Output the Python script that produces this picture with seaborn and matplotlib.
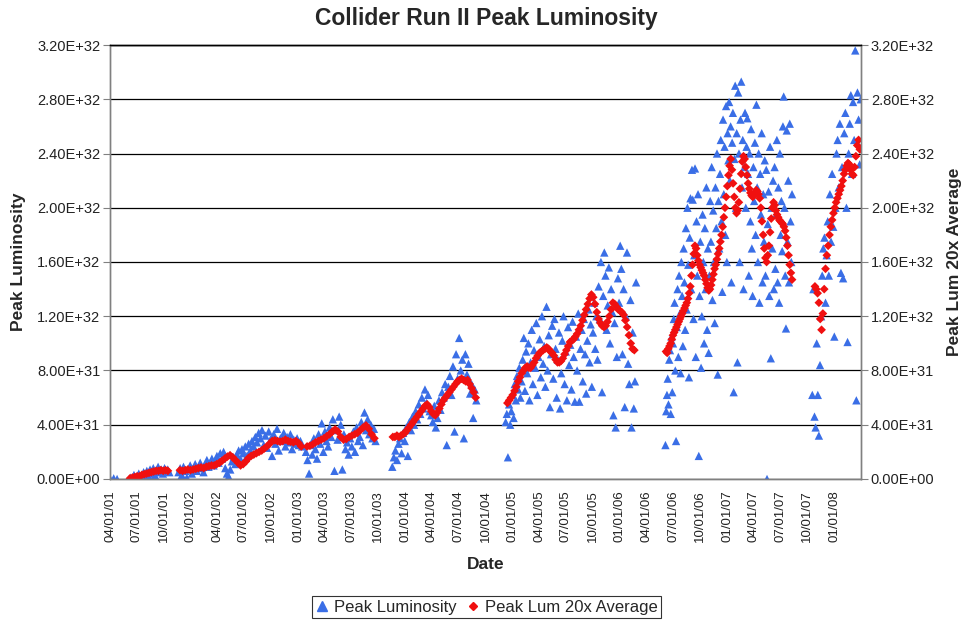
# Collider Run II peak luminosity, recreated with seaborn.
import numpy as np
import pandas as pd
import seaborn as sns
import matplotlib
matplotlib.use("Agg")
import matplotlib.pyplot as plt
import matplotlib.dates as mdates
from matplotlib.lines import Line2D
from matplotlib.ticker import FuncFormatter, MultipleLocator

# Values are in units of 1E30.
UNIT = 1e30

# Store peak luminosity, one span of dates per running period.
peak_spans = [
    ("2001-04-02", "2001-04-25"),
    ("2001-06-05", "2001-10-20"),
    ("2001-11-20", "2003-01-15"),
    ("2003-01-28", "2003-09-22"),
    ("2003-11-18", "2004-08-30"),
    ("2004-12-08", "2006-02-25"),
    ("2006-06-05", "2007-08-10"),
    ("2007-10-18", "2008-03-31"),
]
peak_2001a = [0, 0.5, 0]
peak_2001b = [0, 1, 0, 3, 0.5, 2, 4, 2, 1, 5, 3, 6, 2, 7, 4, 8, 3, 6, 9, 5,
              7, 4, 8, 6, 7, 5]
peak_2002 = [5, 8, 3, 9, 6, 1, 7, 10, 4, 8, 11, 6, 9, 12, 8, 5, 11, 14, 9, 12,
             15, 10, 13, 17, 12, 19, 15, 20, 8, 4, 2, 7, 13, 16, 11, 18, 21, 15,
             22, 19, 24, 17, 26, 21, 28, 24, 31, 27, 34, 30, 36, 25, 32, 23, 35,
             29, 17, 33, 26, 37, 21, 30, 28, 34, 24, 31, 27, 33, 22, 29, 26, 30,
             25, 28, 24]
peak_2003 = [20, 14, 4, 25, 18, 30, 22, 15, 33, 26, 41, 20, 35, 28, 24, 38, 31,
             44, 6, 36, 29, 46, 40, 7, 33, 22, 27, 18, 30, 24, 35, 20, 38, 28,
             31, 42, 25, 49, 36, 44, 33, 40, 30, 37, 28]
peak_2004 = [9, 16, 21, 14, 26, 30, 19, 34, 28, 38, 17, 42, 36, 46, 40, 50, 44,
             55, 48, 60, 52, 66, 56, 62, 50, 47, 42, 54, 38, 45, 58, 51, 64, 60,
             70, 25, 68, 76, 62, 83, 35, 92, 74, 104, 80, 88, 30, 92, 77, 85, 63,
             70, 45, 66, 58]
peak_2005 = [42, 48, 16, 55, 40, 50, 62, 45, 70, 58, 76, 66, 82, 60,
             72, 88, 104, 65, 94, 78, 100, 58, 86, 110, 70, 95, 82, 115, 62, 90,
             103, 75, 120, 85, 98, 68,
             127, 80, 106, 53, 92, 113, 74, 118, 96, 60, 88, 108, 52, 78, 102,
             120, 70, 94, 58, 112, 84, 99, 66, 116, 90, 57,
             105, 80, 122, 57, 96, 110, 72, 118, 92, 63, 102, 125, 86, 114, 68,
             108, 130, 96, 120, 88,
             142, 118, 160, 64, 135, 167, 150, 110, 128, 156, 100, 140, 123, 47,
             115, 38, 90, 148, 130, 172,
             155, 92, 140, 53, 120, 167, 85, 70, 132, 38, 108, 52, 72, 145]
peak_2006 = [25, 50, 62, 74, 55, 88, 95, 48, 105, 64, 100, 118,
             130, 80, 28, 112, 140, 90, 150, 122, 78, 160, 135, 98,
             170, 145, 110, 185, 125, 200, 158, 75, 178, 207, 140, 228,
             206, 118, 165, 229, 90, 190, 150, 210, 17, 135, 175, 82,
             120, 195, 160, 100, 185, 140, 215, 110, 170, 93, 150, 205,
             175, 230, 132, 198, 160, 115, 215, 185, 240, 77, 205, 170,
             225, 250, 190, 138, 265, 210, 245, 180, 275, 160, 255, 235,
             278, 220, 260, 145, 248, 270, 64, 236, 290, 200, 255, 86,
             285, 240, 160, 265, 293, 215, 250, 140, 230, 270, 200, 245,
             266, 225, 150, 240, 190, 258, 170, 135, 230, 205, 248, 180,
             276, 215, 160, 240, 130, 225, 195, 255, 145, 210, 175, 235,
             150, 228, 0, 188, 212, 135, 245, 89, 200, 170, 220, 140,
             230, 155, 195, 250, 145, 215, 130, 240, 180, 205, 168, 260,
             282, 200, 150, 111, 257, 175, 220, 145, 262, 190, 160, 210]
peak_2008 = [62, 140, 46, 38, 100, 62, 32, 84, 120, 150, 170, 178, 130, 165,
             190, 150, 210, 175, 225, 186, 105, 200, 240, 250, 215, 262, 152,
             230, 148, 255, 270, 200, 101, 240, 262, 283, 225, 278, 250, 316,
             58, 285, 265, 232, 280]

# 20-store running average.
avg_spans = [
    ("2001-06-08", "2001-10-15"),
    ("2001-11-25", "2003-01-12"),
    ("2003-02-01", "2003-09-18"),
    ("2003-11-20", "2004-08-28"),
    ("2004-12-14", "2006-02-19"),
    ("2006-06-07", "2007-08-10"),
    ("2007-10-27", "2008-03-28"),
]
avg_2001 = [0.5, 1, 1.5, 2, 2, 3, 3.5, 4, 4.5, 5, 5.5, 6, 6, 6.5, 6, 6.5, 6]
avg_2002 = [6.5, 6, 6.5, 7, 6.5, 7, 7.5, 8, 8.5, 8, 9, 9.5, 10, 10, 11, 12,
            13.5, 15, 16.5, 17.5, 16, 14, 12, 10, 11, 13, 15.5, 17, 18, 19, 20,
            21, 22.5, 24, 26, 28, 28.5, 28, 27.5, 28, 29, 28, 27.5, 27, 28,
            26.5, 24]
avg_2003 = [24, 24.5, 25.5, 27, 28, 29, 30, 31.5, 33, 35, 36.5, 35, 31, 29,
            29.5, 31, 32, 33, 34, 36, 38, 39.5, 37, 33, 30]
avg_2004 = [31, 31, 32, 31, 32, 33, 34, 36, 38, 40, 42, 44, 46, 48, 50, 52, 54,
            55, 53, 50, 48, 47, 49, 52, 55, 58, 60, 62, 64, 66, 68, 70, 72, 73,
            74, 73, 72, 73, 70, 67, 64, 60]
avg_2005 = [56, 58, 60, 62, 65, 68, 72, 75, 78, 80, 82, 83, 82, 82, 84, 86, 89,
            91, 93, 94, 95, 96, 97, 96, 94, 93, 91, 88, 86, 86, 87, 89, 92, 95,
            98, 101, 102, 103, 105, 107, 110, 113, 117, 121, 125, 129, 133, 136,
            134, 129, 123, 118, 115, 113, 112, 113, 116, 120, 125, 130, 129,
            127, 125, 124, 123, 121, 117, 112, 106, 100, 96, 95]
avg_2006 = [94, 93, 96, 98, 100, 103, 106, 108, 110, 112, 114, 116, 118, 120,
            122, 124, 126, 128, 130, 133, 137,
            142, 150, 158, 166, 172, 170, 165,
            161, 158, 156, 154, 152, 150, 147, 144, 141, 139, 140,
            143, 147, 151, 155, 158, 162, 166, 170, 175, 180, 186, 193, 200,
            208, 216, 224, 231, 236,
            228, 218, 208, 200, 196, 198, 204,
            214, 225, 234, 238, 236, 230,
            224, 218, 214, 211, 209, 208, 209, 211, 213, 212, 210, 207, 200,
            190, 180,
            170, 163, 160, 165, 172,
            182, 192, 200, 204, 202, 198,
            195, 193, 191, 190, 189, 188, 186, 183, 178, 172, 165, 158, 152,
            147]
avg_2008 = [142, 140, 137, 130, 118, 110, 122, 140, 155, 165, 172, 180, 186,
            191, 196, 200, 204, 207, 210, 213, 216, 220, 225, 228, 231, 233,
            232, 228, 225, 224, 230, 238, 246, 250, 243]

peak_series = [peak_2001a, peak_2001b, peak_2002, peak_2003, peak_2004,
               peak_2005, peak_2006, peak_2008]
avg_series = [avg_2001, avg_2002, avg_2003, avg_2004, avg_2005, avg_2006,
              avg_2008]

# Quarterly date ticks, as on the original axis.
tick_dates = pd.date_range("2001-04-01", "2008-01-01", freq="3MS")


def build_frame(spans, series):
    """One row per store: date and luminosity."""
    frames = []
    for (start, end), vals in zip(spans, series):
        dates = pd.date_range(start, end, periods=len(vals))
        frames.append(pd.DataFrame({"date": dates,
                                    "lum": np.array(vals, dtype=float) * UNIT}))
    return pd.concat(frames, ignore_index=True)


peak_df = build_frame(peak_spans, peak_series)
avg_df = build_frame(avg_spans, avg_series)

BLUE = "#3a6ee6"
RED = "#f01010"
GRAY = "#808080"

sns.set_style("white")
plt.rcParams["font.family"] = ["Liberation Sans", "DejaVu Sans"]

fig = plt.figure(figsize=(9.61, 6.21), dpi=100)
ax = fig.add_axes([0.1145, 0.2287, 0.7815, 0.6988])

sns.scatterplot(data=peak_df, x="date", y="lum", marker="^", s=36,
                color=BLUE, edgecolor="none", linewidth=0, ax=ax, legend=False)

ax2 = ax.twinx()
sns.scatterplot(data=avg_df, x="date", y="lum", marker="D", s=20,
                color=RED, edgecolor="none", linewidth=0, ax=ax2, legend=False)

xmin, xmax = pd.Timestamp("2001-04-01"), pd.Timestamp("2008-04-01")
for a in (ax, ax2):
    a.set_xlim(xmin, xmax)
    a.set_ylim(0, 3.2e32)
    a.yaxis.set_major_locator(MultipleLocator(4e31))
    a.yaxis.set_major_formatter(FuncFormatter(lambda v, p: f"{v:.2E}"))
    a.tick_params(axis="y", direction="out", length=5, width=0.8,
                  color=GRAY, labelsize=10.5, labelcolor="#222222", pad=2)
    for side in ("left", "right", "bottom"):
        a.spines[side].set_color(GRAY)
        a.spines[side].set_linewidth(1)
    a.spines["top"].set_color("black")
    a.spines["top"].set_linewidth(1)

ax.set_xticks(tick_dates)
ax.xaxis.set_major_formatter(mdates.DateFormatter("%m/%d/%y"))
ax.tick_params(axis="x", direction="out", length=5, width=0.8, color=GRAY,
               labelsize=9.5, labelcolor="#222222", rotation=90, pad=3)
ax2.tick_params(axis="x", bottom=False, labelbottom=False)

ax.grid(axis="y", color="black", linewidth=0.9)
ax.set_axisbelow(True)

ax.set_xlabel("Date", fontsize=12.5, fontweight="bold")
ax.xaxis.set_label_coords(0.5, -0.18)
ax.set_ylabel("Peak Luminosity", fontsize=12.5, fontweight="bold")
ax.yaxis.set_label_coords(-0.112, 0.5)
ax2.set_ylabel("Peak Lum 20x Average", fontsize=12.5, fontweight="bold")
ax2.yaxis.set_label_coords(1.115, 0.5)

fig.text(0.506, 0.971, "Collider Run II Peak Luminosity", ha="center",
         va="center", fontsize=16.5, fontweight="bold")

handles = [
    Line2D([], [], marker="^", color=BLUE, linestyle="none", markersize=6.5),
    Line2D([], [], marker="D", color=RED, linestyle="none", markersize=4.5),
]
leg = fig.legend(handles, ["Peak Luminosity", "Peak Lum 20x Average"],
                 loc="center", bbox_to_anchor=(0.506, 0.0225), ncol=2,
                 fontsize=12, frameon=True, fancybox=False,
                 handlelength=0.8, handletextpad=0.3, columnspacing=0.6,
                 borderpad=0.2, edgecolor="black")
leg.get_frame().set_linewidth(0.8)

fig.savefig("out.png", dpi=100)
